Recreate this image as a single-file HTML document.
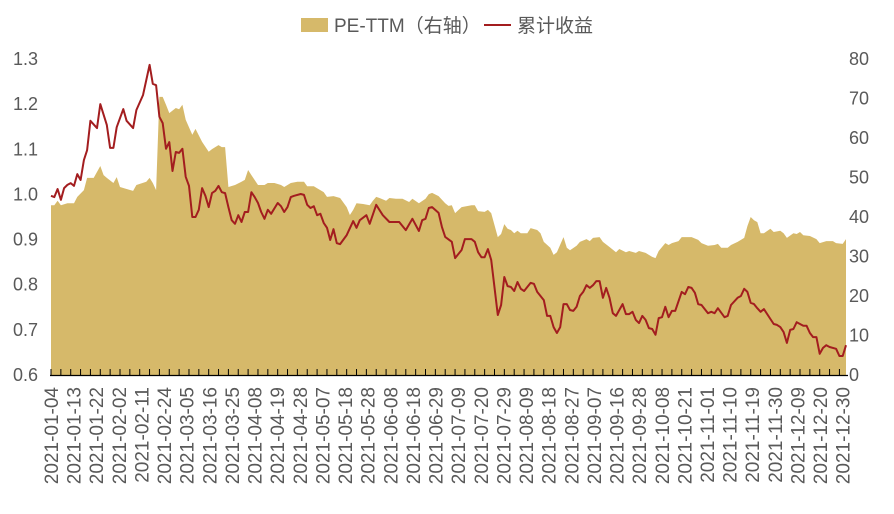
<!DOCTYPE html>
<html><head><meta charset="utf-8"><style>
body{margin:0;background:#fff;}
svg{display:block;font-family:"Liberation Sans","Noto Sans CJK SC",sans-serif;}
</style></head><body>
<svg id="chart" width="894" height="514" viewBox="0 0 894 514" xmlns="http://www.w3.org/2000/svg">
<g>
<rect x="301" y="18" width="27" height="14" fill="#d6b96a"/>
<text x="334" y="32" font-size="19" fill="#595959">PE-TTM（右轴）</text>
<line x1="484" y1="25" x2="511" y2="25" stroke="#a31d1f" stroke-width="2"/>
<text x="517" y="32" font-size="19" fill="#595959">累计收益</text>
</g>
<g id="plot"></g>
</svg>
<script>
const tickLabels=["2021-01-04","2021-01-13","2021-01-22","2021-02-02","2021-02-11","2021-02-24","2021-03-05","2021-03-16","2021-03-25","2021-04-08","2021-04-19","2021-04-28","2021-05-07","2021-05-18","2021-05-28","2021-06-08","2021-06-18","2021-06-29","2021-07-09","2021-07-20","2021-07-29","2021-08-09","2021-08-18","2021-08-27","2021-09-07","2021-09-16","2021-09-28","2021-10-08","2021-10-21","2021-11-01","2021-11-10","2021-11-19","2021-11-30","2021-12-09","2021-12-20","2021-12-30"];
const leftTicks=[0.6,0.7,0.8,0.9,1.0,1.1,1.2,1.3];
const rightTicks=[0,10,20,30,40,50,60,70,80];
const retDays=[0,1,2,3,4,5,6,7,8,9,10,11,12,14,15,17,18,19,20,22,23,25,26,28,30,31,32,33,34,35,36,37,38,39,40,41,42,43,44,45,46,47,48,49,50,51,52,53,54,55,56,57,58,59,60,61,62,63,64,65,66,67,69,70,71,72,73,74,76,77,78,79,80,81,82,83,84,85,86,87,88,90,92,93,94,96,97,99,101,103,106,108,110,112,113,114,115,116,118,119,120,122,123,125,126,128,129,130,131,132,133,134,136,137,138,139,140,141,142,143,144,146,147,148,150,151,152,153,154,155,156,157,158,159,160,161,162,163,164,165,166,167,168,169,170,171,172,174,175,176,177,178,179,180,181,182,183,184,185,186,187,188,189,190,192,193,194,195,196,197,198,200,201,202,203,205,206,207,209,210,211,212,213,214,215,216,217,219,220,221,222,223,224,225,226,227,229,230,231,232,233,234,235,236,237,239,240,241,242];
const retValues=[0.997,0.994,1.012,0.988,1.014,1.021,1.025,1.019,1.045,1.032,1.076,1.098,1.163,1.147,1.200,1.154,1.103,1.103,1.149,1.189,1.163,1.147,1.187,1.220,1.287,1.245,1.242,1.172,1.158,1.101,1.116,1.052,1.094,1.092,1.101,1.039,1.019,0.950,0.950,0.966,1.014,0.997,0.972,1.003,1.008,1.019,1.005,1.003,0.972,0.943,0.935,0.954,0.939,0.961,0.961,1.005,0.994,0.981,0.961,0.946,0.966,0.957,0.981,0.974,0.961,0.972,0.994,0.997,1.001,0.999,0.977,0.970,0.974,0.954,0.957,0.937,0.926,0.899,0.923,0.892,0.890,0.910,0.941,0.926,0.943,0.954,0.935,0.977,0.954,0.939,0.939,0.921,0.946,0.919,0.943,0.946,0.970,0.972,0.959,0.928,0.906,0.895,0.859,0.877,0.901,0.901,0.895,0.872,0.861,0.861,0.879,0.855,0.733,0.755,0.817,0.797,0.795,0.786,0.806,0.791,0.786,0.804,0.802,0.784,0.766,0.731,0.731,0.706,0.693,0.706,0.757,0.757,0.744,0.742,0.751,0.775,0.784,0.799,0.793,0.799,0.808,0.808,0.771,0.793,0.771,0.737,0.731,0.757,0.735,0.735,0.740,0.722,0.715,0.731,0.722,0.704,0.702,0.689,0.726,0.728,0.751,0.728,0.742,0.742,0.784,0.779,0.795,0.793,0.782,0.757,0.755,0.737,0.740,0.737,0.748,0.728,0.731,0.755,0.771,0.775,0.791,0.784,0.760,0.757,0.748,0.740,0.746,0.724,0.713,0.711,0.706,0.695,0.671,0.700,0.702,0.717,0.709,0.709,0.693,0.684,0.684,0.647,0.660,0.666,0.662,0.658,0.642,0.642,0.666];
const peDays=[0,1,2,3,5,7,8,10,11,13,15,16,17,19,20,21,23,25,26,29,30,31,32,33,34,35,36,38,39,40,41,43,44,46,48,49,51,52,53,54,56,58,59,60,61,63,65,66,68,70,71,73,75,77,78,80,81,83,84,86,88,90,91,92,93,95,97,98,99,100,102,103,105,107,109,110,112,114,115,116,118,120,121,122,123,125,128,129,130,132,133,134,136,137,138,139,140,141,142,143,145,146,148,149,150,152,153,154,156,157,158,160,161,163,164,165,167,168,170,172,173,175,176,178,179,181,183,184,185,187,188,189,191,192,195,197,198,200,202,203,204,206,207,209,211,212,213,214,215,216,217,219,220,222,223,224,226,227,228,229,231,233,234,236,238,239,241,242];
const peValues=[43.0,43.0,44.1,43.0,43.5,43.5,45.1,46.8,49.9,49.9,52.9,50.6,49.9,48.6,50.1,47.6,47.1,46.6,48.1,48.9,49.9,48.6,46.8,70.4,70.4,68.4,66.3,67.6,67.3,68.4,64.6,60.8,62.3,59.0,56.5,57.2,58.2,57.7,57.7,47.6,48.1,48.9,49.4,51.9,50.6,48.1,48.1,48.6,48.6,48.1,47.6,48.6,48.9,48.9,47.8,47.8,47.3,46.3,45.1,45.3,44.8,42.5,40.5,41.8,43.5,43.3,43.0,44.1,45.1,44.8,44.1,44.8,44.6,44.6,43.8,44.6,43.5,44.6,45.8,46.1,45.3,43.5,42.8,43.0,41.0,42.5,43.0,43.0,41.5,41.3,41.8,41.0,34.9,35.7,38.2,37.0,36.7,35.9,36.5,35.9,35.9,37.2,36.7,35.9,33.7,32.2,30.4,31.1,34.9,32.2,31.6,32.7,33.7,34.4,33.9,34.7,34.9,33.7,32.4,31.1,31.9,31.1,31.4,30.9,31.4,30.9,29.9,29.6,31.4,33.4,32.9,33.4,33.9,34.9,34.9,34.2,33.4,32.7,32.9,33.2,32.2,32.2,32.9,33.7,34.7,37.7,40.0,39.2,38.7,35.9,35.9,37.0,36.2,36.5,35.9,34.7,35.9,35.7,36.2,35.4,35.2,34.4,33.4,33.9,33.9,33.4,33.2,34.4];

const NS="http://www.w3.org/2000/svg";
const plot=document.getElementById('plot');
const X0=51,X1=846,N=243,Y0=375,Y1=59;
function xs(i){return X0+i*(X1-X0)/(N-1);}
function yl(v){return Y0-(v-0.6)/0.7*(Y0-Y1);}
function yr(v){return Y0-v/80*(Y0-Y1);}
function mk(tag,attrs){const e=document.createElementNS(NS,tag);for(const k in attrs)e.setAttribute(k,attrs[k]);plot.appendChild(e);return e;}

// area
let d='M'+xs(peDays[0])+','+Y0;
peDays.forEach((t,i)=>{d+=' L'+xs(t).toFixed(1)+','+yr(peValues[i]).toFixed(1);});
d+=' L'+xs(peDays[peDays.length-1])+','+Y0+' Z';
const area=mk('path',{d:d,fill:'#d6b96a'});



// line
let ld='';
retDays.forEach((t,i)=>{ld+=(i?' L':'M')+xs(t).toFixed(1)+','+yl(retValues[i]).toFixed(1);});
const line=mk('path',{d:ld,fill:'none',stroke:'#a31d1f','stroke-width':2,'stroke-linejoin':'round'});



// x axis
const ax=mk('line',{x1:X0-1,y1:Y0+0.5,x2:X1+2,y2:Y0+0.5,stroke:'#000','stroke-width':1.2});


for(let i=0;i<N;i+=3){
  const tk=mk('line',{x1:xs(i),y1:Y0,x2:xs(i),y2:Y0-6,stroke:'#000','stroke-width':1});
  
  
}
tickLabels.forEach((s,k)=>{
  const x=xs(k*241/(tickLabels.length-1));
  const t=mk('text',{x:0,y:0,'font-size':19,fill:'#595959','text-anchor':'end',transform:'translate('+(x+7)+',387) rotate(-90)'});
  t.textContent=s;
  
  
});
leftTicks.forEach(v=>{
  const t=mk('text',{x:38,y:yl(v)+6,'font-size':18,fill:'#595959','text-anchor':'end'});
  t.textContent=v.toFixed(1);
  
  
});
rightTicks.forEach(v=>{
  const t=mk('text',{x:849,y:yr(v)+6,'font-size':18,fill:'#595959','text-anchor':'start'});
  t.textContent=v;
  
  
});
</script>
</body></html>
